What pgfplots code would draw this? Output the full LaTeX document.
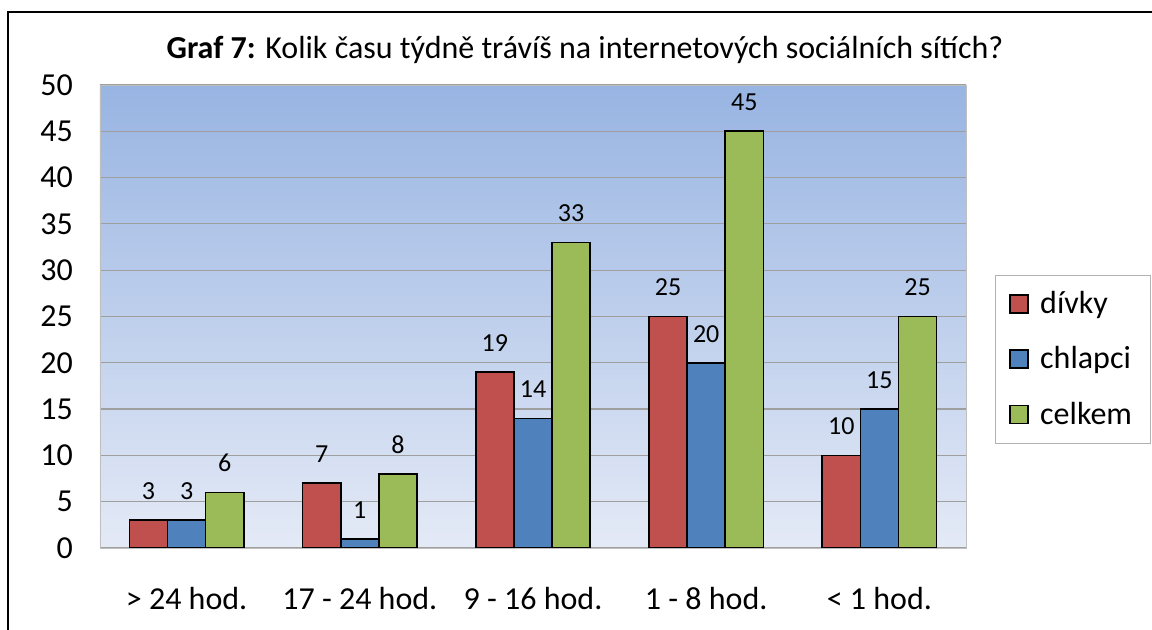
\documentclass[border=0pt]{standalone}
\usepackage{pgfplots}
\pgfplotsset{compat=1.18}
\usepackage{fontspec}
\setmainfont{Carlito}
\definecolor{cred}{RGB}{192,80,77}
\definecolor{cblue}{RGB}{79,129,189}
\definecolor{cgreen}{RGB}{155,187,89}
\definecolor{bgtop}{RGB}{152,180,226}
\definecolor{bgbot}{RGB}{228,234,246}
\begin{document}
\begin{tikzpicture}
\useasboundingbox (0,0) rectangle (576pt,315pt);
\draw[line width=1pt] (4pt,0) -- (4pt,309pt) -- (576pt,309pt);
\node[font=\fontsize{16}{18}\selectfont] at (292.5pt,290pt) {\textbf{Graf 7:} Kolik času týdně trávíš na internetových sociálních sítích?};
\begin{axis}[
  at={(50pt,41pt)}, anchor=south west,
  scale only axis, width=433pt, height=231.5pt,
  ybar=0pt, bar width=0.22,
  xmin=-0.5, xmax=4.5, ymin=0, ymax=50,
  ytick={0,5,...,50},
  xtick={0,1,2,3,4},
  xticklabels={{> 24 hod.},{17 - 24 hod.},{9 - 16 hod.},{1 - 8 hod.},{< 1 hod.}},
  /pgf/number format/assume math mode=true,
  tick label style={font=\fontsize{16}{18}\selectfont},
  xticklabel style={yshift=-16pt},
  yticklabel style={xshift=-10pt},
  major tick length=0pt,
  ymajorgrids, grid style={draw=gray!75, line width=0.6pt},
  axis line style={draw=gray!50},
  axis background/.style={top color=bgtop, bottom color=bgbot},
  nodes near coords,
  nodes near coords style={font=\fontsize{13}{15}\selectfont, yshift=6.5pt},
  legend cell align=left,
  legend style={at={(rel axis cs:1.0335,0.5896)}, anchor=north west,
    draw=gray!60, font=\fontsize{16}{18}\selectfont,
    row sep=11pt, inner xsep=7pt, inner ysep=6pt},
  legend image code/.code={\path[draw=none,fill=none] (0pt,0pt) rectangle (13pt,0pt);\draw[#1, draw=black, line width=0.8pt] (0pt,-4.5pt) rectangle (9pt,4.5pt);},
]
\addplot[fill=cred, draw=black, line width=0.8pt] coordinates {(0,3) (1,7) (2,19) (3,25) (4,10)};
\addplot[fill=cblue, draw=black, line width=0.8pt] coordinates {(0,3) (1,1) (2,14) (3,20) (4,15)};
\addplot[fill=cgreen, draw=black, line width=0.8pt] coordinates {(0,6) (1,8) (2,33) (3,45) (4,25)};
\legend{dívky, chlapci, celkem}
\end{axis}
\end{tikzpicture}
\end{document}
